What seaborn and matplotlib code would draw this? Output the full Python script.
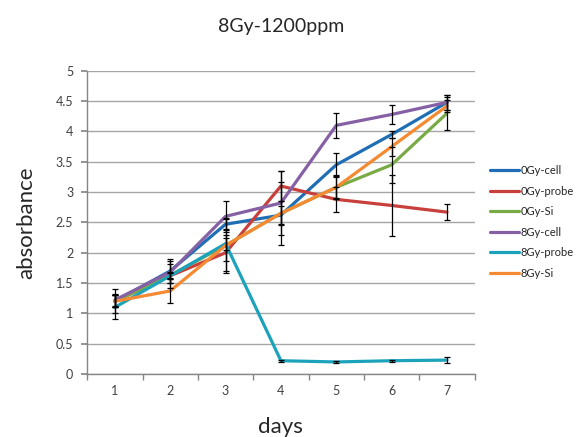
import pandas as pd
import matplotlib.pyplot as plt
import seaborn as sns
import numpy as np

# Data
days = [1, 2, 3, 4, 5, 6, 7]
series_names = ['0Gy-cell', '0Gy-probe', '0Gy-Si', '8Gy-cell', '8Gy-probe', '8Gy-Si']

gy0_cell = [1.20, 1.70, 2.47, 2.62, 3.45, 3.95, 4.48]
gy0_probe = [1.20, 1.62, 2.00, 3.10, 2.88, 2.78, 2.67]
gy0_si = [1.20, 1.63, 2.12, 2.65, 3.08, 3.45, 4.30]
gy8_cell = [1.22, 1.68, 2.60, 2.82, 4.10, 4.28, 4.48]
gy8_probe = [1.10, 1.62, 2.15, 0.22, 0.20, 0.22, 0.23]
gy8_si = [1.20, 1.37, 2.12, 2.65, 3.08, 3.75, 4.42]

gy0_cell_err = [0.10, 0.20, 0.08, 0.15, 0.20, 0.06, 0.12]
gy0_probe_err = [0.10, 0.20, 0.30, 0.25, 0.20, 0.50, 0.13]
gy0_si_err = [0.10, 0.05, 0.45, 0.20, 0.20, 0.30, 0.27]
gy8_cell_err = [0.10, 0.18, 0.25, 0.52, 0.20, 0.16, 0.12]
gy8_probe_err = [0.20, 0.05, 0.10, 0.02, 0.02, 0.02, 0.05]
gy8_si_err = [0.20, 0.20, 0.25, 0.52, 0.18, 0.15, 0.10]

colors = ['#1F6EB5', '#C8403C', '#78AB45', '#8660A5', '#1CA3BC', '#F58A32']

values = [gy0_cell, gy0_probe, gy0_si, gy8_cell, gy8_probe, gy8_si]
errors = [gy0_cell_err, gy0_probe_err, gy0_si_err, gy8_cell_err, gy8_probe_err, gy8_si_err]

df = pd.DataFrame({
    'day': np.tile(days, len(series_names)),
    'absorbance': np.concatenate(values),
    'err': np.concatenate(errors),
    'series': np.repeat(series_names, len(days)),
})

sns.set_theme(style="white")
plt.rcParams['font.family'] = ['Lato', 'DejaVu Sans']

fig = plt.figure(figsize=(5.81, 4.37), dpi=100)
ax = fig.add_axes([0.150, 0.144, 0.667, 0.694])

ax.grid(axis='y', color='#A6A6A6', linewidth=1, zorder=0)
ax.set_axisbelow(True)

sns.lineplot(data=df, x='day', y='absorbance', hue='series', hue_order=series_names,
             palette=colors, linewidth=2.3, ax=ax, zorder=3)

# black error bars drawn on top
for name in series_names:
    sub = df[df['series'] == name]
    ax.errorbar(sub['day'], sub['absorbance'], yerr=sub['err'], fmt='none',
                ecolor='black', elinewidth=0.9, capsize=2.5, capthick=0.9, zorder=4)

ax.set_xlim(0.5, 7.5)
ax.set_ylim(0, 5)
ax.set_yticks(np.arange(0, 5.01, 0.5))
ax.set_yticklabels([f'{v:g}' for v in np.arange(0, 5.01, 0.5)])
ax.set_xticks(days)
ax.set_xticks(np.arange(0.5, 7.6, 1), minor=True)
ax.tick_params(axis='x', which='major', length=0, labelsize=9, colors='#404040', pad=8)
ax.tick_params(axis='x', which='minor', length=4, color='#868686', bottom=True)
ax.tick_params(axis='y', length=4, color='#868686', left=True, labelsize=9,
               labelcolor='#404040', pad=6)

for side in ['top', 'right']:
    ax.spines[side].set_visible(False)
for side in ['left', 'bottom']:
    ax.spines[side].set_color('#868686')
    ax.spines[side].set_linewidth(1)

ax.set_title('8Gy-1200ppm', fontsize=14, pad=28)
ax.set_xlabel('days', fontsize=16, labelpad=14)
ax.set_ylabel('absorbance', fontsize=16, labelpad=14)

ax.legend(loc='center left', bbox_to_anchor=(0.836, 0.492), bbox_transform=fig.transFigure,
          frameon=False, fontsize=8, handlelength=2.6, handletextpad=0.1,
          labelspacing=0.85, borderaxespad=0)

plt.savefig('out.png', dpi=100)
